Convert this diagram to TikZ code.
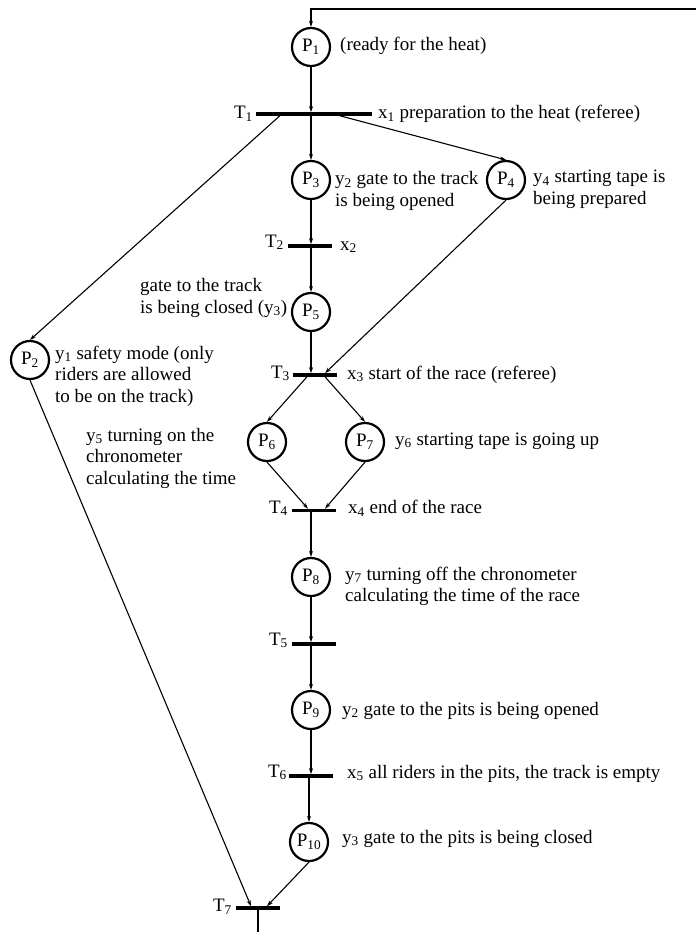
\documentclass[tikz,border=0pt]{standalone}
\usepackage{fontspec}
\setmainfont{Liberation Serif}
\usetikzlibrary{arrows.meta,calc}

\begin{document}
\begin{tikzpicture}
[x=1pt,y=-1pt,
placecircle/.style={circle,draw=black,line width=2.2pt,minimum size=38pt,inner sep=0pt,font=\fontsize{19}{21.5}\selectfont},
transbar/.style={rectangle,fill=black,minimum width=44pt,minimum height=3.2pt,inner sep=0pt},
blackarrow/.style={-{Stealth[length=6pt,width=4pt]},black,line width=1.1pt},
blackline/.style={black,line width=1.1pt},
note/.style={anchor=base west,align=left,inner sep=0pt,font=\fontsize{19}{21.5}\selectfont},
tlabel/.style={anchor=base east,inner sep=0pt,font=\fontsize{19}{21.5}\selectfont}]

\useasboundingbox (0,0) rectangle (696,932);

% places
\node[placecircle](p1) at (311,47){P\textsubscript{1}};
\node[placecircle](p2) at (30,360){P\textsubscript{2}};
\node[placecircle](p3) at (311,180){P\textsubscript{3}};
\node[placecircle](p4) at (506,180){P\textsubscript{4}};
\node[placecircle](p5) at (311,312){P\textsubscript{5}};
\node[placecircle](p6) at (267,442){P\textsubscript{6}};
\node[placecircle](p7) at (365,442){P\textsubscript{7}};
\node[placecircle](p8) at (311,577){P\textsubscript{8}};
\node[placecircle](p9) at (311,710){P\textsubscript{9}};
\node[placecircle](p10) at (309,842){P\textsubscript{10}};

% transitions
\node[transbar,minimum width=116pt](t1) at (314,114){};
\node[transbar](t2) at (310,246){};
\node[transbar](t3) at (315,375){};
\node[transbar](t4) at (314,510.5){};
\node[transbar](t5) at (314,644){};
\node[transbar](t6) at (311,776){};
\node[transbar](t7) at (258,908){};

\node[tlabel](t1name) at (253,118.5){T\textsubscript{1}};
\node[tlabel](t2name) at (284,247){T\textsubscript{2}};
\node[tlabel](t3name) at (290,378){T\textsubscript{3}};
\node[tlabel](t4name) at (288,513){T\textsubscript{4}};
\node[tlabel](t5name) at (288,645){T\textsubscript{5}};
\node[tlabel](t6name) at (287,777){T\textsubscript{6}};
\node[tlabel](t7name) at (232,911.5){T\textsubscript{7}};

% conditions and outputs (multi-line: base of last line)
\node[note](n1) at (340,50){(ready for the heat)};
\node[note](x1) at (378,118.5){x\textsubscript{1} preparation to the heat (referee)};
\node[note](n3) at (335,206){y\textsubscript{2} gate to the track\\is being opened};
\node[note](n4) at (533,204){y\textsubscript{4} starting tape is\\being prepared};
\node[note](x2) at (340,250){x\textsubscript{2}};
\node[note](n5) at (140,313){gate to the track\\is being closed (y\textsubscript{3})};
\node[note](n2) at (55,402){y\textsubscript{1} safety mode (only\\riders are allowed\\to be on the track)};
\node[note](n2b) at (86,484){y\textsubscript{5} turning on the\\chronometer\\calculating the time};
\node[note](x3) at (347,379){x\textsubscript{3} start of the race (referee)};
\node[note](n7) at (395,445){y\textsubscript{6} starting tape is going up};
\node[note](x4) at (348,513.5){x\textsubscript{4} end of the race};
\node[note](n8) at (345,601.5){y\textsubscript{7} turning off the chronometer\\calculating the time of the race};
\node[note](n9) at (342,715){y\textsubscript{2} gate to the pits is being opened};
\node[note](x5) at (347,778){x\textsubscript{5} all riders in the pits, the track is empty};
\node[note](n10) at (342,843){y\textsubscript{3} gate to the pits is being closed};

% loop ends
\coordinate (loopin) at (696,9);
\coordinate (loopout) at (258,932);

% arcs
\draw[blackarrow] (loopin) -- (loopin -| p1) -- (p1.north);
\draw[blackarrow] (p1.south) -- (p1.south |- t1.north);
\draw[blackarrow] (t1.south -| p3) -- (p3.north);
\draw[blackarrow] ($(t1.south west)+(24,0)$) -- (p2.north);
\draw[blackarrow] ($(t1.south)+(26,0)$) -- (p4.north);
\draw[blackarrow] (p3.south) -- (p3.south |- t2.north);
\draw[blackarrow] (t2.south -| p5) -- (p5.north);
\draw[blackarrow] (p5.south) -- (p5.south |- t3.north);
\draw[blackarrow] (p4.south) -- ($(t3.north)+(10,0)$);
\draw[blackarrow] ($(t3.south)+(-8,0)$) -- (p6.north);
\draw[blackarrow] ($(t3.south)+(10,0)$) -- (p7.north);
\draw[blackarrow] (p6.south) -- ($(t4.north)+(-6,0)$);
\draw[blackarrow] (p7.south) -- ($(t4.north)+(11,0)$);
\draw[blackarrow] (t4.south -| p8) -- (p8.north);
\draw[blackarrow] (p8.south) -- (p8.south |- t5.north);
\draw[blackarrow] (t5.south -| p9) -- (p9.north);
\draw[blackarrow] (p9.south) -- (p9.south |- t6.north);
\draw[blackarrow] (t6.south -| p10) -- (p10.north);
\draw[blackarrow] (p10.south) -- ($(t7.north)+(9,0)$);
\draw[blackarrow] (p2.south) -- ($(t7.north)+(-7,0)$);
\draw[blackline] (t7.south) -- (loopout);

\end{tikzpicture}
\end{document}
